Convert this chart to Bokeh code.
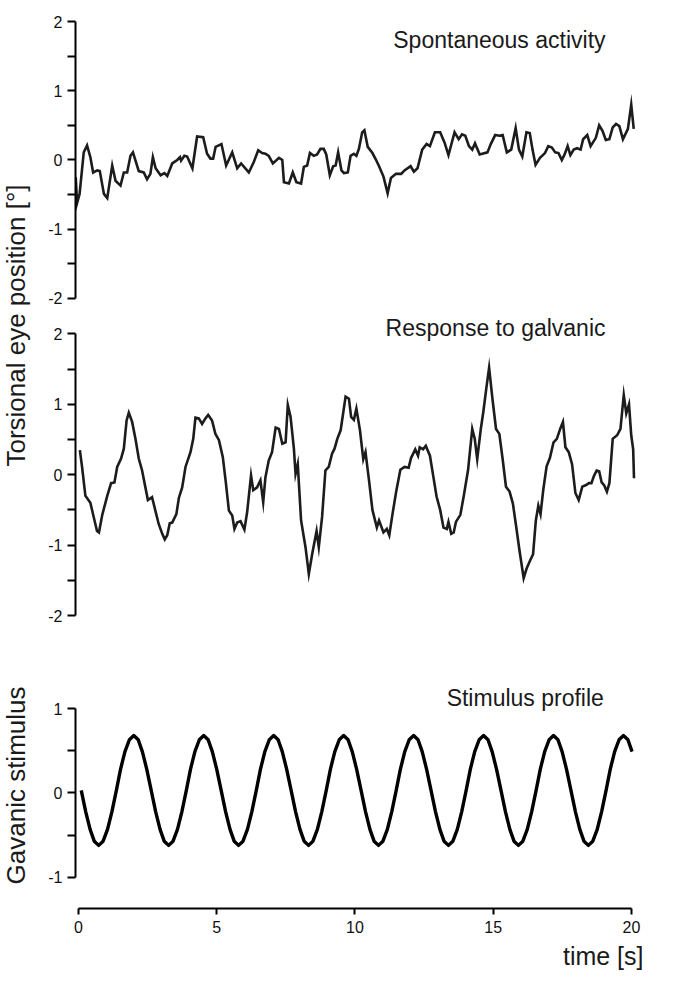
from bokeh.plotting import figure
from bokeh.models import Range1d, FixedTicker, Label, Title, CustomJSTickFormatter
from bokeh.layouts import row, column
from bokeh.embed import file_html
from bokeh.resources import INLINE

FONT = "Liberation Sans"

# ---------------- data ----------------
spont_t = [-0.10, -0.05, 0.04, 0.19, 0.31, 0.43, 0.53, 0.68, 0.77, 0.92,
           1.04, 1.22, 1.34, 1.52, 1.64, 1.76, 1.88, 1.97, 2.18, 2.36,
           2.48, 2.60, 2.69, 2.79, 2.97, 3.11, 3.21, 3.39, 3.57, 3.67,
           3.71, 3.83, 3.93, 4.12, 4.29, 4.51, 4.65, 4.77, 4.87, 4.96,
           5.17, 5.34, 5.56, 5.74, 5.88, 6.16, 6.34, 6.50, 6.64, 6.76,
           6.88, 7.03, 7.25, 7.37, 7.43, 7.61, 7.75, 7.88, 8.05, 8.15,
           8.27, 8.37, 8.51, 8.63, 8.75, 8.87, 8.96, 9.09, 9.21, 9.30,
           9.39, 9.51, 9.60, 9.74, 9.84, 9.96, 10.05, 10.14, 10.26, 10.34,
           10.46, 10.63, 10.75, 10.87, 11.03, 11.18, 11.30, 11.48, 11.67, 11.79,
           12.01, 12.13, 12.26, 12.43, 12.59, 12.71, 12.89, 13.08, 13.24, 13.38,
           13.60, 13.75, 13.87, 13.99, 14.12, 14.24, 14.34, 14.51, 14.79, 14.91,
           15.07, 15.22, 15.34, 15.49, 15.65, 15.81, 15.93, 16.05, 16.20, 16.32,
           16.42, 16.53, 16.69, 16.87, 16.99, 17.12, 17.24, 17.36, 17.48, 17.58,
           17.69, 17.79, 17.91, 18.03, 18.16, 18.25, 18.40, 18.52, 18.71, 18.83,
           18.95, 19.07, 19.20, 19.32, 19.44, 19.56, 19.69, 19.87, 19.99, 20.08]
spont_v = [-0.25, -0.62, -0.49, 0.11, 0.21, 0.04, -0.18, -0.15, -0.16, -0.49,
           -0.55, -0.08, -0.30, -0.37, -0.18, -0.18, 0.06, 0.11, -0.16, -0.18,
           -0.28, -0.20, 0.04, -0.12, -0.22, -0.19, -0.23, -0.05, 0.00, 0.04,
           -0.01, 0.06, 0.05, -0.12, 0.34, 0.33, 0.09, 0.02, 0.02, 0.19,
           0.23, -0.08, 0.11, -0.12, -0.05, -0.18, -0.03, 0.14, 0.10, 0.09,
           0.06, -0.05, 0.03, 0.00, -0.32, -0.34, -0.18, -0.32, -0.34, -0.10,
           -0.08, 0.10, 0.06, 0.08, 0.16, 0.16, 0.08, -0.22, -0.09, -0.08,
           0.11, -0.15, -0.19, -0.18, 0.06, 0.09, 0.06, 0.16, 0.40, 0.43,
           0.19, 0.10, 0.01, -0.09, -0.24, -0.48, -0.26, -0.20, -0.20, -0.15,
           -0.09, -0.17, -0.12, 0.15, 0.23, 0.20, 0.40, 0.40, 0.25, 0.07,
           0.40, 0.30, 0.37, 0.35, 0.20, 0.15, 0.24, 0.08, 0.11, 0.23,
           0.36, 0.35, 0.36, 0.11, 0.15, 0.46, 0.15, 0.05, 0.40, 0.39,
           0.15, -0.07, 0.03, 0.10, 0.20, 0.18, 0.11, 0.10, 0.00, 0.08,
           0.20, 0.07, 0.15, 0.17, 0.15, 0.30, 0.36, 0.20, 0.32, 0.50,
           0.42, 0.29, 0.30, 0.47, 0.52, 0.49, 0.30, 0.45, 0.80, 0.45]

galv_t = [0.05, 0.13, 0.25, 0.43, 0.55, 0.67, 0.74, 0.86, 1.04, 1.18,
          1.30, 1.40, 1.54, 1.64, 1.74, 1.82, 1.94, 2.06, 2.18, 2.30,
          2.42, 2.51, 2.66, 2.78, 2.90, 3.03, 3.12, 3.21, 3.30, 3.39,
          3.54, 3.63, 3.75, 3.87, 4.05, 4.15, 4.23, 4.35, 4.47, 4.59,
          4.69, 4.83, 4.95, 5.08, 5.22, 5.32, 5.44, 5.56, 5.64, 5.74,
          5.86, 6.00, 6.10, 6.24, 6.32, 6.46, 6.58, 6.68, 6.76, 6.88,
          7.00, 7.13, 7.25, 7.37, 7.49, 7.57, 7.67, 7.79, 7.85, 7.93,
          8.05, 8.21, 8.33, 8.45, 8.61, 8.69, 8.81, 8.93, 9.05, 9.17,
          9.26, 9.36, 9.48, 9.57, 9.66, 9.78, 9.86, 9.96, 10.05, 10.18,
          10.30, 10.38, 10.51, 10.63, 10.79, 10.87, 11.03, 11.15, 11.24, 11.36,
          11.49, 11.64, 11.79, 11.94, 12.03, 12.18, 12.28, 12.34, 12.46, 12.56,
          12.71, 12.83, 12.95, 13.08, 13.20, 13.32, 13.38, 13.48, 13.57, 13.65,
          13.81, 13.93, 14.09, 14.24, 14.33, 14.42, 14.55, 14.64, 14.75, 14.85,
          14.97, 15.10, 15.22, 15.34, 15.46, 15.59, 15.71, 15.83, 15.95, 16.10,
          16.20, 16.32, 16.44, 16.54, 16.63, 16.71, 16.81, 16.93, 17.05, 17.18,
          17.30, 17.42, 17.52, 17.61, 17.73, 17.85, 17.97, 18.09, 18.22, 18.34,
          18.46, 18.55, 18.64, 18.74, 18.83, 18.92, 19.01, 19.11, 19.20, 19.32,
          19.48, 19.60, 19.72, 19.81, 19.91, 19.99, 20.06, 20.09]
galv_v = [0.35, 0.11, -0.30, -0.40, -0.60, -0.80, -0.82, -0.57, -0.30, -0.12,
          -0.11, 0.11, 0.23, 0.37, 0.77, 0.88, 0.75, 0.51, 0.23, 0.06,
          -0.18, -0.36, -0.32, -0.51, -0.70, -0.84, -0.92, -0.86, -0.69, -0.68,
          -0.56, -0.33, -0.18, 0.11, 0.32, 0.51, 0.81, 0.80, 0.72, 0.80,
          0.85, 0.77, 0.58, 0.49, 0.25, -0.08, -0.51, -0.58, -0.77, -0.68,
          -0.66, -0.78, -0.53, -0.01, -0.22, -0.18, -0.08, -0.39, -0.04, 0.20,
          0.32, 0.67, 0.65, 0.44, 0.46, 0.99, 0.82, 0.37, 0.01, 0.15,
          -0.65, -1.03, -1.41, -1.13, -0.80, -1.03, -0.60, 0.06, 0.11, 0.30,
          0.37, 0.51, 0.63, 0.87, 1.11, 1.08, 0.82, 0.78, 0.94, 0.63,
          0.22, 0.32, -0.09, -0.50, -0.75, -0.65, -0.82, -0.77, -0.86, -0.55,
          -0.24, 0.07, 0.11, 0.10, 0.24, 0.36, 0.27, 0.39, 0.36, 0.41,
          0.27, -0.02, -0.31, -0.50, -0.75, -0.77, -0.67, -0.84, -0.82, -0.67,
          -0.57, -0.31, 0.07, 0.65, 0.51, 0.22, 0.65, 0.89, 1.23, 1.52,
          1.08, 0.65, 0.58, 0.22, -0.17, -0.24, -0.41, -0.74, -1.08, -1.47,
          -1.34, -1.23, -1.13, -0.65, -0.44, -0.56, -0.21, 0.12, 0.24, 0.46,
          0.51, 0.65, 0.75, 0.39, 0.32, 0.15, -0.26, -0.36, -0.17, -0.15,
          -0.12, -0.12, -0.02, 0.06, 0.05, -0.11, -0.15, -0.24, -0.12, 0.51,
          0.56, 0.65, 1.13, 0.87, 1.00, 0.56, 0.36, -0.05]

stim_t = [0.10, 0.26, 0.42, 0.57, 0.73, 0.89, 1.05, 1.21, 1.37, 1.52,
          1.68, 1.84, 2.00, 2.16, 2.31, 2.47, 2.63, 2.79, 2.95, 3.10,
          3.26, 3.42, 3.58, 3.74, 3.90, 4.05, 4.21, 4.37, 4.53, 4.69,
          4.84, 5.00, 5.16, 5.32, 5.48, 5.63, 5.79, 5.95, 6.11, 6.27,
          6.43, 6.58, 6.74, 6.90, 7.06, 7.22, 7.37, 7.53, 7.69, 7.85,
          8.01, 8.16, 8.32, 8.48, 8.64, 8.80, 8.96, 9.11, 9.27, 9.43,
          9.59, 9.75, 9.90, 10.06, 10.22, 10.38, 10.54, 10.69, 10.85, 11.01,
          11.17, 11.33, 11.49, 11.64, 11.80, 11.96, 12.12, 12.28, 12.43, 12.59,
          12.75, 12.91, 13.07, 13.22, 13.38, 13.54, 13.70, 13.86, 14.02, 14.17,
          14.33, 14.49, 14.65, 14.81, 14.96, 15.12, 15.28, 15.44, 15.60, 15.75,
          15.91, 16.07, 16.23, 16.39, 16.55, 16.70, 16.86, 17.02, 17.18, 17.34,
          17.49, 17.65, 17.81, 17.97, 18.13, 18.28, 18.44, 18.60, 18.76, 18.92,
          19.08, 19.23, 19.39, 19.55, 19.71, 19.87, 20.02]
stim_v = [0.03, -0.22, -0.43, -0.57, -0.62, -0.57, -0.43, -0.22, 0.03, 0.28, 0.49, 0.63, 0.68, 0.63, 0.49, 0.28,
          0.03, -0.22, -0.43, -0.57, -0.62, -0.57, -0.43, -0.22, 0.03, 0.28, 0.49, 0.63, 0.68, 0.63, 0.49, 0.28,
          0.03, -0.22, -0.43, -0.57, -0.62, -0.57, -0.43, -0.22, 0.03, 0.28, 0.49, 0.63, 0.68, 0.63, 0.49, 0.28,
          0.03, -0.22, -0.43, -0.57, -0.62, -0.57, -0.43, -0.22, 0.03, 0.28, 0.49, 0.63, 0.68, 0.63, 0.49, 0.28,
          0.03, -0.22, -0.43, -0.57, -0.62, -0.57, -0.43, -0.22, 0.03, 0.28, 0.49, 0.63, 0.68, 0.63, 0.49, 0.28,
          0.03, -0.22, -0.43, -0.57, -0.62, -0.57, -0.43, -0.22, 0.03, 0.28, 0.49, 0.63, 0.68, 0.63, 0.49, 0.28,
          0.03, -0.22, -0.43, -0.57, -0.62, -0.57, -0.43, -0.22, 0.03, 0.28, 0.49, 0.63, 0.68, 0.63, 0.49, 0.28,
          0.03, -0.22, -0.43, -0.57, -0.62, -0.57, -0.43, -0.22, 0.03, 0.28, 0.49, 0.63, 0.68, 0.63, 0.49]

eye_ticks = [-2, -1, 0, 1, 2]
eye_minor = [-1.5, -0.5, 0.5, 1.5]
stim_ticks = [-1, 0, 1]
stim_minor = [-0.5, 0.5]
time_ticks = [0, 5, 10, 15, 20]

titles = ["Spontaneous activity", "Response to galvanic", "Stimulus profile"]
ylabel_eye = "Torsional eye position [°]"
ylabel_stim = "Gavanic stimulus"
xlabel = "time [s]"

# ---------------- figures ----------------
X0, X1 = -0.108, 20.325
STRIP_W = 32
plain = CustomJSTickFormatter(code="return tick.toString();")


def style_axis(ax):
    ax.axis_line_width = 2
    ax.axis_line_color = "black"
    ax.major_tick_line_width = 2
    ax.minor_tick_line_width = 2
    ax.major_tick_line_color = "black"
    ax.minor_tick_line_color = "black"
    ax.major_tick_in = 0
    ax.minor_tick_in = 0
    ax.formatter = plain
    ax.major_label_text_font = FONT
    ax.major_label_text_font_size = "16px"
    ax.major_label_text_color = "#111111"


def panel(height, y0, y1, top, bottom, ticks, minor, bound, show_x):
    p = figure(width=613, height=height,
               x_range=Range1d(X0, X1), y_range=Range1d(y0, y1),
               output_backend="svg", toolbar_location=None,
               x_axis_location="below" if show_x else None,
               min_border_left=75 - STRIP_W, min_border_right=5,
               min_border_top=top, min_border_bottom=bottom)
    p.outline_line_color = None
    p.grid.visible = False
    p.background_fill_color = "white"
    ya = p.yaxis[0]
    ya.ticker = FixedTicker(ticks=ticks, minor_ticks=minor)
    ya.bounds = bound
    style_axis(ya)
    ya.major_tick_out = 8
    ya.minor_tick_out = 8
    ya.major_label_standoff = 5
    if show_x:
        xa = p.xaxis[0]
        xa.ticker = FixedTicker(ticks=time_ticks, minor_ticks=[])
        xa.bounds = (0, 20)
        style_axis(xa)
        xa.major_tick_out = 6
        xa.minor_tick_out = 0
        xa.major_label_standoff = 6
    return p


def title_label(x, y, text):
    return Label(x=x, y=y, text=text, text_align="right", text_baseline="middle",
                 text_font=FONT, text_font_size="23px", text_color="#1a1a1a")


f1 = panel(308, -2.087, 2.130, 12, 4, eye_ticks, eye_minor, (-2, 2), False)
f1.line(spont_t, spont_v, line_color="#1c1c1c", line_width=2.6, line_join="miter")
f1.add_layout(title_label(19.06, 1.726, titles[0]))

f2 = panel(322, -2.142, 2.304, 4, 5, eye_ticks, eye_minor, (-2, 2), False)
f2.line(galv_t, galv_v, line_color="#1c1c1c", line_width=2.6, line_join="miter")
f2.add_layout(title_label(19.06, 2.077, titles[1]))

f3 = panel(352, -1.367, 1.864, 5, 74, stim_ticks, stim_minor, (-1, 1), True)
f3.line(stim_t, stim_v, line_color="black", line_width=3.4, line_join="round")
f3.add_layout(title_label(19.0, 1.124, titles[2]))
f3.add_layout(Title(text=xlabel, align="right", offset=-3, standoff=9,
                    text_font=FONT, text_font_size="25px",
                    text_font_style="normal", text_color="#1a1a1a"), "below")


# left strips carrying the y-axis titles (axis without line/ticks)
def label_strip(height, text, top, bottom):
    s = figure(width=STRIP_W, height=height, x_range=Range1d(0, 1), y_range=Range1d(0, 1),
               output_backend="svg", toolbar_location=None,
               x_axis_location=None, y_axis_location="left",
               min_border_left=0, min_border_right=0,
               min_border_top=top, min_border_bottom=bottom)
    s.outline_line_color = None
    s.grid.visible = False
    ax = s.yaxis[0]
    ax.ticker = FixedTicker(ticks=[], minor_ticks=[])
    ax.axis_line_color = None
    ax.major_tick_out = 0
    ax.minor_tick_out = 0
    ax.major_label_standoff = 0
    ax.axis_label = text
    ax.axis_label_standoff = 2
    ax.axis_label_text_font = FONT
    ax.axis_label_text_font_size = "26px"
    ax.axis_label_text_font_style = "normal"
    ax.axis_label_text_color = "#1a1a1a"
    return s


labA = label_strip(630, ylabel_eye, 20, 0)
labB = label_strip(352, ylabel_stim, 0, 42)

layout = row(column(labA, labB, spacing=0), column(f1, f2, f3, spacing=0), spacing=0)

open("out.html", "w").write(file_html(layout, INLINE))
